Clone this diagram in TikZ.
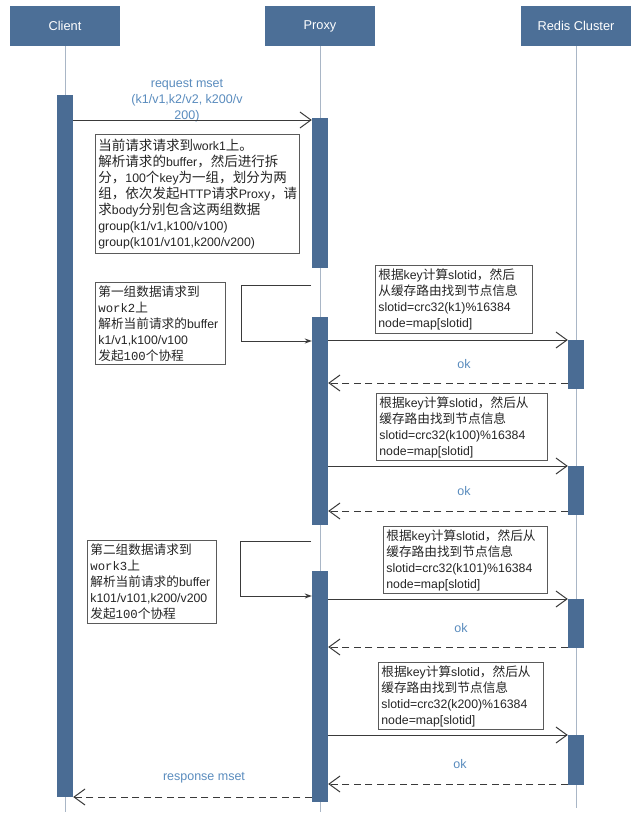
\documentclass[tikz,border=0pt]{standalone}
\usepackage{fontspec}
\setmainfont{Liberation Sans}
\newfontfamily\cjk[Scale=1.03]{Noto Sans CJK SC}
\newfontfamily\cjkbig[Scale=1.1]{Noto Sans CJK SC}
\newfontfamily\monofnt{Liberation Mono}
\usetikzlibrary{arrows.meta}
\definecolor{hdr}{HTML}{4C6F97}
\definecolor{barc}{HTML}{4A6C94}
\definecolor{lifec}{HTML}{A9B6C6}
\definecolor{lbl}{HTML}{5A8CBE}
\definecolor{ink}{HTML}{3A3A3A}
\definecolor{notebd}{HTML}{5A5A5A}
\newcommand\zh[1]{{\cjk #1}}
\newcommand\mo[1]{{\monofnt #1}}
\begin{document}
\begin{tikzpicture}[x=1pt,y=-1pt,
  head/.style={fill=hdr, text=white, minimum width=110pt, minimum height=40pt, inner sep=0pt, font=\fontsize{12.8}{15}\selectfont},
  actbar/.style={fill=barc, minimum width=16pt, inner sep=0pt},
  lifeln/.style={draw=lifec, line width=1pt},
  msg/.style={draw=ink, line width=1pt, -{Straight Barb[length=11pt,width=16pt,line width=1pt]}},
  reply/.style={msg, dash pattern=on 7pt off 4.5pt},
  selfmsg/.style={draw=ink, line width=1pt, -{Stealth[length=7pt,width=5pt]}},
  note/.style={draw=notebd, line width=0.8pt, fill=white, anchor=north west, align=left, inner xsep=3pt, inner ysep=1pt, text=black!85, font=\fontsize{12.3}{16}\selectfont},
  bignote/.style={note, font=\fontsize{12.3}{16}\selectfont\let\cjk\cjkbig},
  lab/.style={text=lbl, align=center, font=\fontsize{12.5}{16}\selectfont}]
\fill[white] (0,0) rectangle (640,817);
\useasboundingbox (0,0) rectangle (640,817);
% headers
\node[head] (hc) at (65,26) {Client};
\node[head] (hp) at (320,26) {Proxy};
\node[head] (hr) at (576,26) {Redis Cluster};
% lifelines
\coordinate (ec) at (65,812);
\coordinate (ep) at (320,812);
\coordinate (er) at (576,808);
\draw[lifeln] (hc.south) -- (ec);
\draw[lifeln] (hp.south) -- (ep);
\draw[lifeln] (hr.south) -- (er);
% activation bars
\node[actbar, minimum height=702pt] (ca) at (65,446) {};
\node[actbar, minimum height=150pt] (pa1) at (320,193) {};
\node[actbar, minimum height=208pt] (pa2) at (320,421) {};
\node[actbar, minimum height=231pt] (pa3) at (320,686.5) {};
\node[actbar, minimum height=49pt] (ra1) at (576,364.5) {};
\node[actbar, minimum height=49pt] (ra2) at (576,490.5) {};
\node[actbar, minimum height=49pt] (ra3) at (576,623.5) {};
\node[actbar, minimum height=50pt] (ra4) at (576,760) {};
% request
\node[lab] (lreq) at (187,101) {request mset\\(k1/v1,k2/v2, k200/v\\200)};
\draw[msg] (ca.east |- 0,120) -- (pa1.west |- 0,120);
% note 1
\node[bignote, text width=198pt, minimum height=119pt] (n1) at (95,134) {\zh{当前请求请求到}work1\zh{上。}\\
\zh{解析请求的}buffer\zh{，然后进行拆}\\
\zh{分，}100\zh{个}key\zh{为一组，划分为两}\\
\zh{组，依次发起}HTTP\zh{请求}Proxy\zh{，请}\\
\zh{求}body\zh{分别包含这两组数据}\\
group(k1/v1,k100/v100)\\
group(k101/v101,k200/v200)};
% self call 1
\coordinate (s1) at (311,285);
\draw[selfmsg] (s1) -- (241,285) -- (241,341) -- (pa2.west |- 0,341);
\node[note, text width=124pt, minimum height=82pt] (w2) at (95,282) {\zh{第一组数据请求到}\\
\mo{work2}\zh{上}\\
\zh{解析当前请求的}buffer\\
k1/v1,k100/v100\\
\zh{发起}\mo{100}\zh{个协程}};
% redis a
\node[note, text width=151pt, minimum height=68pt] (ka) at (375,265) {\zh{根据}key\zh{计算}slotid\zh{，然后}\\
\zh{从缓存路由找到节点信息}\\
slotid=crc32(k1)\%16384\\
node=map[slotid]};
\draw[msg] (pa2.east |- 0,340) -- (ra1.west |- 0,340);
\node[lab] (ok1) at (464,364) {ok};
\draw[reply] (ra1.west |- 0,383) -- (pa2.east |- 0,383);
% redis b
\node[note, text width=165pt, minimum height=67pt] (kb) at (376,393) {\zh{根据}key\zh{计算}slotid\zh{，然后从}\\
\zh{缓存路由找到节点信息}\\
slotid=crc32(k100)\%16384\\
node=map[slotid]};
\draw[msg] (pa2.east |- 0,466) -- (ra2.west |- 0,466);
\node[lab] (ok2) at (464,491) {ok};
\draw[reply] (ra2.west |- 0,511) -- (pa2.east |- 0,511);
% self call 2
\coordinate (s2) at (311,541);
\draw[selfmsg] (s2) -- (240,541) -- (240,596) -- (pa3.west |- 0,596);
\node[note, text width=123pt, minimum height=83pt] (w3) at (87,540) {\zh{第二组数据请求到}\\
\mo{work3}\zh{上}\\
\zh{解析当前请求的}buffer\\
k101/v101,k200/v200\\
\zh{发起}\mo{100}\zh{个协程}};
% redis c
\node[note, text width=158pt, minimum height=67pt] (kc) at (383,526) {\zh{根据}key\zh{计算}slotid\zh{，然后从}\\
\zh{缓存路由找到节点信息}\\
slotid=crc32(k101)\%16384\\
node=map[slotid]};
\draw[msg] (pa3.east |- 0,599) -- (ra3.west |- 0,599);
\node[lab] (ok3) at (461,628) {ok};
\draw[reply] (ra3.west |- 0,647) -- (pa3.east |- 0,647);
% redis d
\node[note, text width=159pt, minimum height=67pt] (kd) at (378,662) {\zh{根据}key\zh{计算}slotid\zh{，然后从}\\
\zh{缓存路由找到节点信息}\\
slotid=crc32(k200)\%16384\\
node=map[slotid]};
\draw[msg] (pa3.east |- 0,735) -- (ra4.west |- 0,735);
\node[lab] (ok4) at (460,764) {ok};
\draw[reply] (ra4.west |- 0,784) -- (pa3.east |- 0,784);
% response
\node[lab] (lres) at (204,778) {response mset};
\draw[reply] (pa3.west |- 0,797) -- (ca.east |- 0,797);
\end{tikzpicture}
\end{document}
